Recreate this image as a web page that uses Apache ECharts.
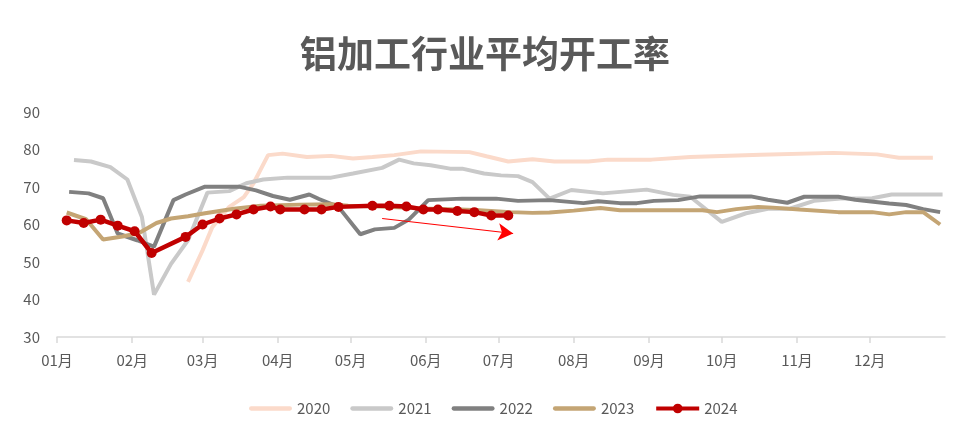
<!DOCTYPE html>
<html>
<head>
<meta charset="utf-8">
<title>铝加工行业平均开工率</title>
<script src="https://cdn.jsdelivr.net/npm/echarts@6/dist/echarts.min.js"></script>
<style>
  html, body { margin: 0; padding: 0; background: #fff; }
  #chart { width: 970px; height: 438px; }
</style>
</head>
<body>
<div id="chart"></div>
<script>
// x values are day-of-year (0 = Jan 1)
const monthStarts = [0, 31, 60, 91, 121, 152, 182, 213, 244, 274, 305, 335];
const monthLabels = ["01月", "02月", "03月", "04月", "05月", "06月", "07月", "08月", "09月", "10月", "11月", "12月"];

const days2020 = [54, 60, 64, 71, 77, 81, 87, 93, 103, 113, 122, 130, 139, 150, 170, 177, 186, 196, 205, 219, 227, 245, 261, 290, 320, 338, 347, 361];
const vals2020 = [44.7, 53.1, 59.3, 64.7, 67.3, 71.0, 78.5, 78.9, 78.0, 78.3, 77.6, 78.0, 78.5, 79.5, 79.3, 78.2, 76.8, 77.4, 76.8, 76.8, 77.3, 77.3, 78.0, 78.6, 79.1, 78.7, 77.8, 77.8];

const days2021 = [7, 14, 22, 29, 35, 40, 47, 54, 62, 71, 78, 85, 95, 113, 122, 134, 141, 147, 154, 162, 167, 176, 183, 190, 196, 203, 212, 225, 243, 254, 261, 274, 284, 293, 302, 312, 323, 336, 344, 365];
const vals2021 = [77.2, 76.8, 75.3, 72.0, 62.0, 41.3, 49.5, 55.8, 68.5, 68.9, 71.0, 72.0, 72.5, 72.5, 73.6, 75.1, 77.3, 76.3, 75.8, 74.9, 74.9, 73.6, 73.1, 72.9, 71.3, 66.9, 69.2, 68.3, 69.3, 67.9, 67.4, 60.7, 63.0, 64.2, 64.2, 66.3, 66.9, 67.0, 68.0, 68.0];

const days2022 = [5, 13, 19, 25, 33, 40, 48, 53, 61, 75, 82, 89, 96, 104, 108, 116, 125, 131, 139, 145, 153, 167, 181, 190, 203, 217, 223, 232, 239, 246, 256, 265, 286, 293, 301, 308, 322, 329, 343, 350, 357, 364];
const vals2022 = [68.7, 68.3, 67.0, 57.6, 55.8, 54.1, 66.5, 68.0, 70.1, 70.1, 69.1, 67.6, 66.6, 68.0, 66.8, 64.7, 57.4, 58.7, 59.1, 61.3, 66.5, 66.9, 66.9, 66.3, 66.5, 65.7, 66.2, 65.7, 65.7, 66.3, 66.5, 67.5, 67.5, 66.6, 65.8, 67.4, 67.4, 66.6, 65.6, 65.2, 64.1, 63.3];

const days2023 = [4, 12, 19, 27, 34, 41, 47, 54, 61, 73, 84, 100, 113, 120, 133, 150, 166, 174, 187, 196, 203, 213, 224, 232, 266, 272, 280, 289, 295, 306, 322, 336, 343, 350, 357, 364];
const vals2023 = [63.2, 61.4, 56.0, 56.8, 57.8, 60.4, 61.6, 62.2, 63.0, 64.2, 65.0, 65.3, 65.4, 65.0, 64.8, 64.3, 64.0, 63.8, 63.3, 63.1, 63.2, 63.7, 64.4, 63.8, 63.8, 63.3, 64.1, 64.7, 64.5, 64.0, 63.3, 63.3, 62.7, 63.3, 63.3, 60.0];

const days2024 = [4, 11, 18, 25, 32, 39, 53, 60, 67, 74, 81, 88, 92, 102, 109, 116, 130, 137, 144, 151, 157, 165, 172, 179, 186];
const vals2024 = [61.1, 60.4, 61.3, 59.7, 58.2, 52.4, 56.7, 60.0, 61.6, 62.7, 64.0, 64.8, 64.0, 64.0, 64.0, 64.7, 65.0, 65.0, 64.8, 64.0, 64.0, 63.6, 63.3, 62.4, 62.4];

// trend arrow drawn on the chart, in data coordinates
const arrowFrom = [134, 61.6];
const arrowTo = [188, 57.6];

// plain bar icon for the legend entries drawn without markers
const barIcon = "path://M2,0L38,0A2,2,0,0,1,38,4L2,4A2,2,0,0,1,2,0Z";

function pairs(days, vals) {
  return days.map((d, i) => [d, vals[i]]);
}

function lineSeries(name, days, vals, color) {
  return {
    name: name,
    type: "line",
    data: pairs(days, vals),
    symbol: "none",
    lineStyle: { color: color, width: 4 },
    itemStyle: { color: color }
  };
}

function initChart() {
  const chart = echarts.init(document.getElementById("chart"));
  const textColor = "#595959";
  const option = {
    animation: false,
    textStyle: { fontFamily: "Noto Sans CJK SC" },
    title: {
      text: "铝加工行业平均开工率",
      left: "center",
      top: 30,
      textStyle: { fontSize: 37, fontWeight: "bold", color: textColor, fontFamily: "Noto Sans CJK SC" }
    },
    legend: {
      bottom: 17,
      left: 244,
      itemWidth: 43,
      itemHeight: 12,
      itemGap: 20,
      textStyle: { fontSize: 15, color: textColor },
      data: [
        { name: "2020", icon: barIcon },
        { name: "2021", icon: barIcon },
        { name: "2022", icon: barIcon },
        { name: "2023", icon: barIcon },
        { name: "2024", lineStyle: { width: 4 } }
      ]
    },
    grid: { left: 57, right: 25, top: 112, bottom: 101 },
    xAxis: {
      type: "value",
      min: 0,
      max: 366,
      splitLine: { show: false },
      axisLine: { lineStyle: { color: "#D9D9D9", width: 1.5 } },
      axisTick: { show: true, customValues: monthStarts, length: 6, lineStyle: { color: "#D9D9D9", width: 1.5 } },
      axisLabel: {
        customValues: monthStarts,
        margin: 16,
        fontSize: 15,
        color: textColor,
        formatter: function (v) { return monthLabels[monthStarts.indexOf(v)]; }
      }
    },
    yAxis: {
      type: "value",
      min: 30,
      max: 90,
      interval: 10,
      splitLine: { show: false },
      axisLine: { show: false },
      axisTick: { show: false },
      axisLabel: { fontSize: 15, color: textColor, margin: 17 }
    },
    series: [
      lineSeries("2020", days2020, vals2020, "#FBDACA"),
      lineSeries("2021", days2021, vals2021, "#C9C9C9"),
      lineSeries("2022", days2022, vals2022, "#808080"),
      lineSeries("2023", days2023, vals2023, "#C4A574"),
      {
        name: "2024",
        type: "line",
        data: pairs(days2024, vals2024),
        symbol: "circle",
        symbolSize: 10,
        lineStyle: { color: "#C00000", width: 4.5 },
        itemStyle: { color: "#C00000" },
        z: 5,
        markLine: {
          silent: true,
          symbol: ["none", "arrow"],
          symbolSize: [13, 15],
          label: { show: false },
          lineStyle: { color: "#FF0000", width: 1.2, type: "solid" },
          data: [[{ coord: arrowFrom }, { coord: arrowTo }]]
        }
      }
    ]
  };
  chart.setOption(option);
}

document.addEventListener("DOMContentLoaded", initChart);
</script>
</body>
</html>
